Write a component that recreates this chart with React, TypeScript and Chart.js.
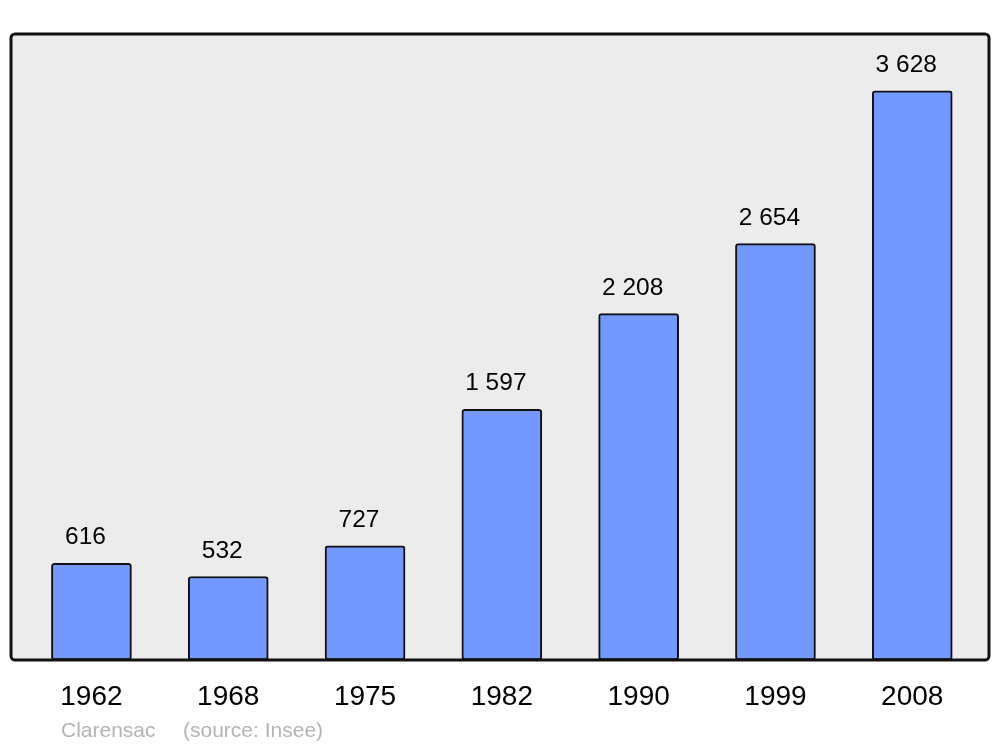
import React, { useEffect, useRef } from "react";
import { Chart, registerables } from "chart.js";

Chart.register(...registerables);

const years = ["1962", "1968", "1975", "1982", "1990", "1999", "2008"];
const population = [616, 532, 727, 1597, 2208, 2654, 3628];
const footerPlace = "Clarensac";
const footerSource = "(source: Insee)";

const FONT = "'Liberation Sans', Arial, sans-serif";

function fmt(v: number): string {
  return String(v).replace(/\B(?=(\d{3})+(?!\d))/g, " ");
}

const framePlugin = {
  id: "frame",
  beforeDatasetsDraw(chart: any) {
    const { ctx, chartArea: a } = chart;
    ctx.save();
    ctx.beginPath();
    ctx.roundRect(a.left, a.top, a.right - a.left, a.bottom - a.top, 4);
    ctx.fillStyle = "#ececec";
    ctx.fill();
    ctx.restore();
  },
  afterDatasetsDraw(chart: any) {
    const { ctx, chartArea: a } = chart;
    ctx.save();
    ctx.beginPath();
    ctx.roundRect(a.left, a.top, a.right - a.left, a.bottom - a.top, 4);
    ctx.lineWidth = 3;
    ctx.strokeStyle = "#111";
    ctx.stroke();
    // value labels
    const meta = chart.getDatasetMeta(0);
    ctx.fillStyle = "#000";
    ctx.font = `24.5px ${FONT}`;
    ctx.textAlign = "center";
    ctx.textBaseline = "alphabetic";
    meta.data.forEach((bar: any, i: number) => {
      ctx.fillText(fmt(population[i]), bar.x - 6, bar.y - 19);
    });
    // footer
    ctx.fillStyle = "#b4b4b4";
    ctx.font = `21px ${FONT}`;
    ctx.textAlign = "left";
    ctx.fillText(footerPlace, 61, 737);
    ctx.fillText(footerSource, 183, 737);
    ctx.restore();
  },
};

export default function App() {
  const ref = useRef<HTMLCanvasElement>(null);
  useEffect(() => {
    const chart = new Chart(ref.current!, {
      type: "bar",
      data: {
        datasets: [
          {
            data: population.map((v, i) => ({ x: i, y: v })),
            backgroundColor: "#7399ff",
            borderColor: "#111",
            borderWidth: 2,
            borderRadius: 3,
            borderSkipped: false,
            barThickness: 80,
          },
        ],
      },
      options: {
        animation: false,
        responsive: false,
        maintainAspectRatio: false,
        layout: { padding: { left: 11, right: 11, top: 34, bottom: 0 } },
        plugins: { legend: { display: false }, tooltip: { enabled: false } },
        scales: {
          x: {
            type: "linear",
            offset: false,
            bounds: "data",
            min: -0.588,
            max: 6.561,
            grid: { display: false, offset: false },
            border: { display: false },
            afterBuildTicks: (axis: any) => {
              axis.ticks = years.map((_, i) => ({ value: i }));
            },
            afterFit: (axis: any) => {
              axis.height = 87;
            },
            ticks: {
              autoSkip: false,
              maxRotation: 0,
              padding: 12,
              color: "#000",
              font: { family: FONT, size: 28 },
              callback: (v: any) => years[Math.round(v)] ?? "",
            },
          },
          y: {
            display: false,
            min: 0,
            max: 3990,
          },
        },
      },
      plugins: [framePlugin],
    });
    return () => chart.destroy();
  }, []);
  return (
    <div style={{ position: "absolute", left: 0, top: 0, width: 1000, height: 747, background: "#fff" }}>
      <canvas ref={ref} width={1000} height={747} style={{ display: "block" }} />
    </div>
  );
}
